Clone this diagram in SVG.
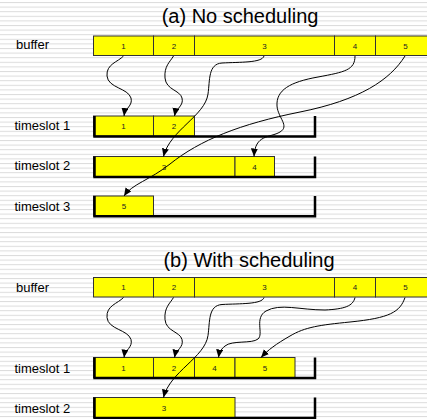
<svg xmlns="http://www.w3.org/2000/svg" width="427" height="419" viewBox="0 0 427 419">
<style>
.cell{fill:#ffff00;stroke:#333;stroke-width:1}
.num{font-family:"Liberation Sans",Arial,sans-serif;font-size:8px;fill:#222;text-anchor:middle}
.lbl{font-family:"Liberation Sans",Arial,sans-serif;font-size:13px;fill:#000}
.title{font-family:"Liberation Sans",Arial,sans-serif;font-size:20px;fill:#000;text-anchor:middle}
.slot{fill:none;stroke:#000;stroke-width:2.5}
.conn{fill:none;stroke:#000;stroke-width:1;marker-end:url(#arr)}
</style>
<defs>
<pattern id="stripes" patternUnits="userSpaceOnUse" width="427" height="4.6" y="2">
<rect x="0" y="0" width="427" height="1" fill="#dcdcdc"/>
</pattern>
<marker id="arr" markerUnits="userSpaceOnUse" markerWidth="8" markerHeight="8" refX="8" refY="3.5" orient="auto">
<path d="M0,0 L8,3.5 L0,7 z" fill="#000"/>
</marker>
</defs>
<rect width="427" height="419" fill="#fff"/>
<rect width="427" height="419" fill="url(#stripes)"/>

<text class="title" x="240" y="23">(a) No scheduling</text>
<text class="title" x="249" y="267">(b) With scheduling</text>

<g id="labels-a">
<text class="lbl" x="16" y="48.5">buffer</text>
<text class="lbl" x="14.5" y="129.5">timeslot 1</text>
<text class="lbl" x="14.5" y="170">timeslot 2</text>
<text class="lbl" x="14.5" y="211">timeslot 3</text>
</g>
<g id="labels-b">
<text class="lbl" x="16" y="292">buffer</text>
<text class="lbl" x="14.5" y="372.5">timeslot 1</text>
<text class="lbl" x="14.5" y="412.5">timeslot 2</text>
</g>

<!-- (a) buffer -->
<g id="a-buf-1"><rect class="cell" x="93.5" y="36" width="60" height="19.5"/><text class="num" x="123.5" y="48.5">1</text></g>
<g id="a-buf-2"><rect class="cell" x="153.5" y="36" width="41" height="19.5"/><text class="num" x="174" y="48.5">2</text></g>
<g id="a-buf-3"><rect class="cell" x="194.5" y="36" width="140" height="19.5"/><text class="num" x="264.5" y="48.5">3</text></g>
<g id="a-buf-4"><rect class="cell" x="334.5" y="36" width="41" height="19.5"/><text class="num" x="355" y="48.5">4</text></g>
<g id="a-buf-5"><rect class="cell" x="375.5" y="36" width="60" height="19.5"/><text class="num" x="405.5" y="48.5">5</text></g>

<!-- (a) timeslot 1 -->
<g id="a-ts1">
<rect class="cell" x="93.5" y="116" width="60" height="20"/><text class="num" x="123.5" y="129">1</text>
<rect class="cell" x="153.5" y="116" width="41" height="20"/><text class="num" x="174" y="129">2</text>
<path class="slot" d="M94.5,116 V136.5 H315 V116"/>
</g>
<!-- (a) timeslot 2 -->
<g id="a-ts2">
<rect class="cell" x="93.5" y="156.5" width="141.5" height="20"/><text class="num" x="164" y="169.5">3</text>
<rect class="cell" x="235" y="156.5" width="39.5" height="20"/><text class="num" x="254.5" y="169.5">4</text>
<path class="slot" d="M94.5,156.5 V177 H315 V156.5"/>
</g>
<!-- (a) timeslot 3 -->
<g id="a-ts3">
<rect class="cell" x="93.5" y="196" width="60" height="20"/><text class="num" x="124" y="209">5</text>
<path class="slot" d="M94.5,196 V216.3 H315 V196"/>
</g>

<!-- (b) buffer -->
<g id="b-buf-1"><rect class="cell" x="93.5" y="277.5" width="60" height="19.5"/><text class="num" x="123.5" y="290">1</text></g>
<g id="b-buf-2"><rect class="cell" x="153.5" y="277.5" width="41" height="19.5"/><text class="num" x="174" y="290">2</text></g>
<g id="b-buf-3"><rect class="cell" x="194.5" y="277.5" width="140" height="19.5"/><text class="num" x="264.5" y="290">3</text></g>
<g id="b-buf-4"><rect class="cell" x="334.5" y="277.5" width="41" height="19.5"/><text class="num" x="355" y="290">4</text></g>
<g id="b-buf-5"><rect class="cell" x="375.5" y="277.5" width="60" height="19.5"/><text class="num" x="405.5" y="290">5</text></g>

<!-- (b) timeslot 1 -->
<g id="b-ts1">
<rect class="cell" x="93.5" y="357.5" width="60" height="20"/><text class="num" x="123.5" y="370.5">1</text>
<rect class="cell" x="153.5" y="357.5" width="41" height="20"/><text class="num" x="174" y="370.5">2</text>
<rect class="cell" x="194.5" y="357.5" width="40.5" height="20"/><text class="num" x="214.5" y="370.5">4</text>
<rect class="cell" x="235" y="357.5" width="60" height="20"/><text class="num" x="265" y="370.5">5</text>
<path class="slot" d="M94.5,357.5 V378 H315 V357.5"/>
</g>
<!-- (b) timeslot 2 -->
<g id="b-ts2">
<rect class="cell" x="93.5" y="397.5" width="141.5" height="20"/><text class="num" x="164" y="410.5">3</text>
<path class="slot" d="M94.5,397.5 V418 H315 V397.5"/>
</g>

<g id="connectors">
<!-- (a) -->
<path class="conn" d="M123.5,56 C118,62 106,64 107,76 C108,88 128,88 131,98 C133,106 125,108 124,116"/>
<path class="conn" d="M173.5,56 C170,62 164,66 165,78 C166,90 180,90 182,98 C184,106 176,108 174.5,116"/>
<path class="conn" d="M264,56 C262,63 240,62 222,63 C208,64 210,80 208,94 C205,116 170,130 163.5,156.5"/>
<path class="conn" d="M355,56 C355,70 345,72 318,77 C290,82 276,90 277,106 C278,118 290,126 280,132 C270,138 255,134 254,156.5"/>
<path class="conn" d="M405,56 C390,80 360,100 300,112 C240,124 200,140 170,164 C150,180 132,184 124,196"/>
<!-- (b) -->
<path class="conn" d="M123.5,297.5 C118,303.5 106,305.5 107,317.5 C108,329.5 128,329.5 131,339.5 C133,347.5 125,349.5 124,357.5"/>
<path class="conn" d="M173.5,297.5 C170,303.5 164,307.5 165,319.5 C166,331.5 180,331.5 182,339.5 C184,347.5 176,349.5 174.5,357.5"/>
<path class="conn" d="M264,297.5 C262,304.5 240,303.5 222,304.5 C208,305.5 210,321.5 208,335.5 C205,357.5 170,371.5 163.5,397.5"/>
<path class="conn" d="M355,297.5 C353,306 345,309 325,310 C300,310 280,303 266,311 C254,318 264,334 258,339 C252,344 232,340 225,346 C220,350 219,354 218.5,357.5"/>
<path class="conn" d="M405,297.5 C400,312 390,318 350,322 C320,325 305,327 290,336 C276,344 268,350 261,357.5"/>
</g>
</svg>
